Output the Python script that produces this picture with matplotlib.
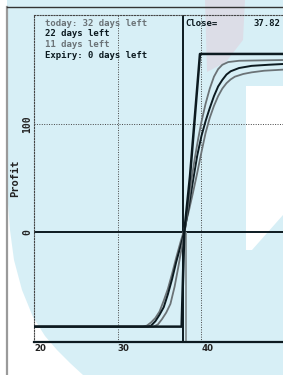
import matplotlib
matplotlib.use("Agg")
import matplotlib.pyplot as plt
from matplotlib.patches import Polygon

W, H = 283, 375          # output size in pixels
DPI = 100

# ---- data --------------------------------------------------------------
close = 37.82
breakeven = 38.22
days_left = [32, 22, 11, 0]

exp_price = [20, 37.64, 37.95, 38.64, 39.83, 49.75]
exp_profit = [-87, -87, 0, 52, 165, 165]

today_price = [20, 33.0, 33.5, 34.0, 34.5, 35.0, 35.5, 36.0, 36.5, 37.0,
               37.5, 37.85, 38.5, 39.0, 39.5, 40.0, 40.5, 41.0, 41.5, 42.0,
               42.5, 43.0, 43.5, 44.0, 45.0, 46.0, 47.5, 49.75]
today_profit = [-87, -87, -86, -83, -79, -73, -63, -52, -38, -23,
                -9, 0, 20, 37, 55, 74, 92, 106, 117, 126,
                133, 138, 141.5, 144, 146.5, 148, 149.5, 150.5]

d22_price = [20, 33.6, 34.0, 34.5, 35.0, 35.5, 36.0, 36.5, 37.0, 37.5,
             37.95, 38.5, 39.0, 39.5, 40.0, 40.5, 41.0, 41.5, 42.0, 42.5,
             43.0, 43.5, 44.5, 46.0, 48.0, 49.75]
d22_profit = [-87, -87, -86, -82, -76, -69, -57, -43, -27, -13,
              0, 24, 48, 71, 89, 103, 115, 126, 135, 141,
              146, 149, 152, 154, 155, 155.7]

d11_price = [20, 34.3, 34.8, 35.3, 35.8, 36.3, 36.8, 37.24, 37.6, 38.0,
             38.4, 38.84, 39.2, 39.6, 40.0, 40.5, 41.0, 41.5, 42.0, 42.5,
             43.2, 44.5, 49.75]
d11_profit = [-87, -87, -85, -80, -74, -66, -50, -32, -16, 0,
              24, 50, 68, 86, 102, 119, 133, 144, 151, 155,
              157.5, 158.7, 159.4]

x_ticks = [20, 30, 40]
y_ticks = [0, 100]

BLACK = "#0c1a20"
GREY = "#6b7377"
BG = "#d7eff6"


def px(x, y):
    """ pixel position -> figure fraction """
    return (x / W, 1 - y / H)


fig = plt.figure(figsize=(W / DPI, H / DPI), dpi=DPI)
fig.patch.set_facecolor(BG)


def bg_poly(points, color, alpha=1.0):
    """ flat background shape given in pixel coordinates """
    fig.add_artist(Polygon([px(*p) for p in points], closed=True,
                           transform=fig.transFigure, facecolor=color,
                           edgecolor="none", alpha=alpha, zorder=-5))


# watermark-ish background shapes and the window frame
bg_poly([(7, 190), (10, 230), (14, 260), (22, 290), (33, 317), (45, 336),
         (57, 350), (70, 363), (83, 375), (7, 375)], "white")
bg_poly([(246, 86), (283, 86), (283, 215), (252, 250), (246, 250)], "white")
bg_poly([(205, 0), (245, 0), (243, 40), (226, 62), (207, 72)], "#e3c8d6", 0.45)
bg_poly([(0, 0), (7, 0), (7, 375), (0, 375)], "white")

fig.add_artist(plt.Line2D([7 / W, 7 / W], [0, 1 - 7 / H], transform=fig.transFigure,
                          color="#9a9a9a", lw=1.6, zorder=-4))
fig.add_artist(plt.Line2D([7 / W, 1], [1 - 7 / H, 1 - 7 / H], transform=fig.transFigure,
                          color="#333333", lw=1.0, zorder=-4))

# plot area: x=20 at px 34, top at px 15, bottom at px 342
ax = fig.add_axes([34 / W, 1 - 342 / H, 1 - 34 / W, (342 - 15) / H])
ax.set_facecolor("none")
ax.set_xlim(20, 49.75)
ax.set_ylim(-101.2, 201)

ax.spines["right"].set_visible(False)
for s in ["top", "left"]:
    ax.spines[s].set_linestyle((0, (1, 1.5)))
    ax.spines[s].set_linewidth(0.8)
    ax.spines[s].set_color("#444444")
ax.spines["bottom"].set_linewidth(1.6)
ax.spines["bottom"].set_color(BLACK)

# dotted grid
for xv in x_ticks[1:]:
    ax.axvline(xv, color="#444444", lw=0.7, ls=(0, (1, 1.5)), zorder=1)
for yv in y_ticks[1:]:
    ax.axhline(yv, color="#444444", lw=0.7, ls=(0, (1, 1.5)), zorder=1)

ax.axhline(0, color=BLACK, lw=1.4, zorder=2)
ax.axvline(close, color=BLACK, lw=1.4, zorder=2)
ax.vlines(breakeven, -101.2, 0, color="#8a9699", lw=1.4, zorder=2)

ax.plot(today_price, today_profit, color=GREY, lw=1.3, zorder=3)
ax.plot(d22_price, d22_profit, color=BLACK, lw=1.4, zorder=3)
ax.plot(d11_price, d11_profit, color=GREY, lw=1.3, zorder=3)
ax.plot(exp_price, exp_profit, color=BLACK, lw=1.8, zorder=4)

ax.set_xticks(x_ticks)
ax.set_xticklabels([str(v) for v in x_ticks], fontsize=6.2, fontweight="bold",
                   color="#222222", ha="left")
ax.set_yticks(y_ticks)
ax.set_yticklabels([str(v) for v in y_ticks], fontsize=7, fontweight="bold",
                   family="DejaVu Sans Mono", color="#222222",
                   rotation=90, va="center")
ax.tick_params(length=0, pad=1.5)
ax.set_ylabel("Profit", fontsize=7.5, fontweight="bold",
              family="DejaVu Sans Mono", color="#222222", labelpad=1)

# legend text at the top
legend = ["today: %d days left" % days_left[0],
          "%d days left" % days_left[1],
          "%d days left" % days_left[2],
          "Expiry: %d days left" % days_left[3]]
colours = [GREY, BLACK, GREY, BLACK]
for i, (txt, col) in enumerate(zip(legend, colours)):
    fig.text(*px(45, 23 + 10.7 * i), txt, fontsize=6.5, fontweight="bold",
             family="DejaVu Sans Mono", color=col, va="center", ha="left")
fig.text(*px(185, 23), "Close=", fontsize=6.5, fontweight="bold",
         family="DejaVu Sans Mono", color=BLACK, va="center", ha="left")
fig.text(*px(253, 23), "%.2f" % close, fontsize=6.5, fontweight="bold",
         family="DejaVu Sans Mono", color=BLACK, va="center", ha="left")

fig.savefig("out.png", dpi=DPI, facecolor=fig.get_facecolor())
